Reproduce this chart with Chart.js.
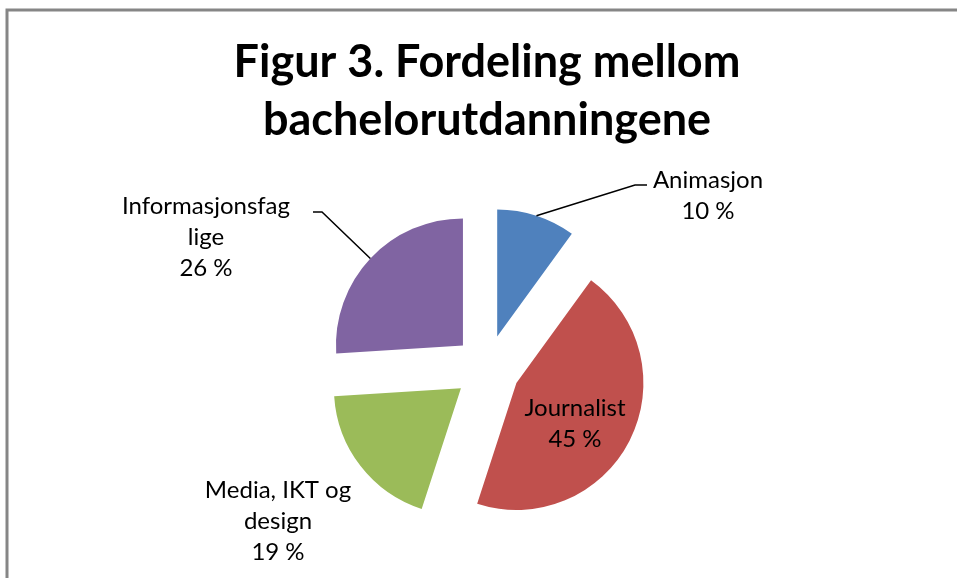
<!DOCTYPE html>
<html><head><meta charset="utf-8">
<script src="https://cdn.jsdelivr.net/npm/chart.js@4/dist/chart.umd.min.js"></script>
<style>html,body{margin:0;padding:0;background:#fff;overflow:hidden}canvas{display:block}</style>
</head><body>
<canvas id="c" width="957" height="578"></canvas>
<script>
const titleLines = ['Figur 3. Fordeling mellom', 'bachelorutdanningene'];
const categories = ['Animasjon', 'Journalist', 'Media, IKT og design', 'Informasjonsfaglige'];
const labelLines = [['Animasjon'], ['Journalist'], ['Media, IKT og', 'design'], ['Informasjonsfag', 'lige']];
const shares = [10, 45, 19, 26];
const colors = ['#4F81BD', '#C0504D', '#9BBB59', '#8064A2'];

// layout (pixels, relative to the pie centre)
const EXPLODE = 33;
const RADIUS = 127;
const labelPos = [[221, -172], [88, 56], [-209, 153], [-281, -131]];
const leaderPts = [[[148, -183], [160, -183]], null, null, [[-165, -156], [-174, -156]]];
const LABEL_FONT = '24px Lato';
const LABEL_LH = 31;
const TITLE_FONT = 'bold 45px Lato';

const framePlugin = {
  id: 'frame',
  beforeDraw(chart) {
    const ctx = chart.ctx;
    ctx.save();
    ctx.strokeStyle = '#868686';
    ctx.lineWidth = 3;
    ctx.beginPath();
    ctx.moveTo(7, 578);
    ctx.lineTo(7, 10);
    ctx.lineTo(957, 10);
    ctx.stroke();
    ctx.fillStyle = '#000';
    ctx.font = TITLE_FONT;
    ctx.textAlign = 'center';
    ctx.textBaseline = 'alphabetic';
    const cx = (chart.chartArea.left + chart.chartArea.right) / 2;
    titleLines.forEach((t, i) => ctx.fillText(t, cx, 77 + i * 58));
    ctx.restore();
  }
};

// pull every slice out from the centre along its mid-angle
const explodePlugin = {
  id: 'explode',
  afterDatasetUpdate(chart, args) {
    const meta = chart.getDatasetMeta(args.index);
    meta.data.forEach(arc => {
      const mid = (arc.startAngle + arc.endAngle) / 2;
      arc.x += EXPLODE * Math.cos(mid);
      arc.y += EXPLODE * Math.sin(mid);
    });
  }
};

const labelPlugin = {
  id: 'sliceLabels',
  afterDatasetsDraw(chart) {
    const ctx = chart.ctx;
    const meta = chart.getDatasetMeta(0);
    const ca = chart.chartArea;
    const pcx = (ca.left + ca.right) / 2, pcy = (ca.top + ca.bottom) / 2;
    ctx.save();
    meta.data.forEach((arc, i) => {
      const p = arc.getProps(['x', 'y', 'startAngle', 'endAngle', 'outerRadius'], true);
      const mid = (p.startAngle + p.endAngle) / 2;
      if (leaderPts[i]) {
        const sx = p.x + p.outerRadius * Math.cos(mid);
        const sy = p.y + p.outerRadius * Math.sin(mid);
        ctx.strokeStyle = '#000';
        ctx.lineWidth = 1.5;
        ctx.beginPath();
        ctx.moveTo(sx, sy);
        leaderPts[i].forEach(q => ctx.lineTo(pcx + q[0], pcy + q[1]));
        ctx.stroke();
      }
      const lines = labelLines[i].concat([shares[i] + ' %']);
      ctx.fillStyle = '#000';
      ctx.font = LABEL_FONT;
      ctx.textAlign = 'center';
      ctx.textBaseline = 'middle';
      const lx = pcx + labelPos[i][0], ly = pcy + labelPos[i][1];
      lines.forEach((t, k) => {
        ctx.fillText(t, lx, ly + (k - (lines.length - 1) / 2) * LABEL_LH);
      });
    });
    ctx.restore();
  }
};

new Chart(document.getElementById('c'), {
  type: 'pie',
  data: {
    labels: categories,
    datasets: [{
      data: shares,
      backgroundColor: colors,
      borderWidth: 0
    }]
  },
  options: {
    responsive: false,
    animation: false,
    radius: RADIUS,
    layout: { padding: { left: 117, right: 100, top: 200, bottom: 42 } },
    plugins: {
      legend: { display: false },
      title: { display: false },
      tooltip: { enabled: false }
    },
    events: []
  },
  plugins: [framePlugin, explodePlugin, labelPlugin]
});
</script>
</body></html>
